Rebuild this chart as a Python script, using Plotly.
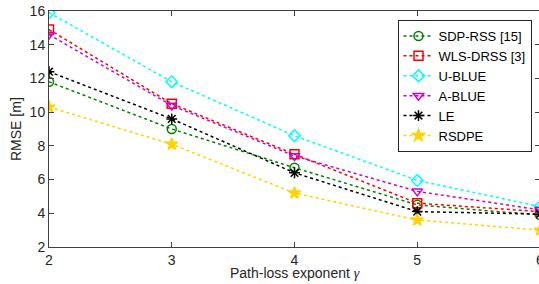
import plotly.graph_objects as go

gamma = [2, 3, 4, 5, 6]
sdp_rss = [11.8, 9.0, 6.7, 4.5, 3.9]
wls_drss = [14.9, 10.5, 7.5, 4.6, 4.1]
u_blue = [15.9, 11.8, 8.6, 5.95, 4.4]
a_blue = [14.6, 10.4, 7.4, 5.3, 4.2]
le = [12.4, 9.6, 6.4, 4.1, 3.95]
rsdpe = [10.3, 8.1, 5.2, 3.6, 3.0]

series = [
    ("SDP-RSS [15]", sdp_rss, "#008000", "circle-open"),
    ("WLS-DRSS [3]", wls_drss, "#FF0000", "square-open"),
    ("U-BLUE", u_blue, "#00FFFF", "diamond-open"),
    ("A-BLUE", a_blue, "#CC00CC", "triangle-down-open"),
    ("LE", le, "#000000", "asterisk-open"),
    ("RSDPE", rsdpe, "#FFD200", "star"),
]

fig = go.Figure()
for name, vals, col, sym in series:
    fig.add_trace(go.Scatter(
        x=gamma, y=vals, name=name, mode="lines+markers",
        line=dict(color=col, width=1.5, dash="dot"),
        marker=dict(symbol=sym, size=9, color=col, line=dict(color=col, width=1.5)),
    ))

W, H = 545, 284
L, R, T, B = 49, 5, 11, 37
axcol = "#404040"
font = dict(family="Liberation Sans, Arial, sans-serif", size=14, color="#262626")
fig.update_layout(
    width=W, height=H,
    margin=dict(l=L, r=R, t=T, b=B),
    paper_bgcolor="white", plot_bgcolor="white",
    font=font,
    showlegend=True,
    legend=dict(x=(531.5 - L) / (W - L - R), y=(H - B - 20) / (H - T - B),
                xanchor="right", yanchor="top", itemwidth=30,
                bgcolor="white", bordercolor="#262626", borderwidth=1,
                font=dict(size=13, color="#000000"), tracegroupgap=0),
    xaxis=dict(range=[2, 6], tickvals=[2, 3, 4, 5, 6], showgrid=False, zeroline=False,
               showline=True, linecolor=axcol, linewidth=1, mirror="ticks",
               ticks="inside", ticklen=5, tickcolor=axcol, automargin=False),
    yaxis=dict(range=[2, 16], tickvals=[2, 4, 6, 8, 10, 12, 14, 16], showgrid=False, zeroline=False,
               showline=True, linecolor=axcol, linewidth=1, mirror="ticks",
               ticks="inside", ticklen=5, tickcolor=axcol, automargin=False),
    annotations=[
        dict(text="Path-loss exponent <span style='font-family:\"Liberation Serif\", serif'><i>γ</i></span>",
             xref="paper", yref="paper",
             x=(295 - L) / (W - L - R), y=-(273 - (H - B)) / (H - T - B),
             xanchor="center", yanchor="middle", showarrow=False, font=font),
        dict(text="RMSE [m]", xref="paper", yref="paper",
             x=-(L - 16) / (W - L - R), y=0.5, textangle=-90,
             xanchor="center", yanchor="middle", showarrow=False, font=font),
    ],
)
fig.write_html("out.html", config={"displayModeBar": False},
               post_script="document.body.style.margin='0';document.body.style.overflow='hidden';document.documentElement.style.overflow='hidden';")
